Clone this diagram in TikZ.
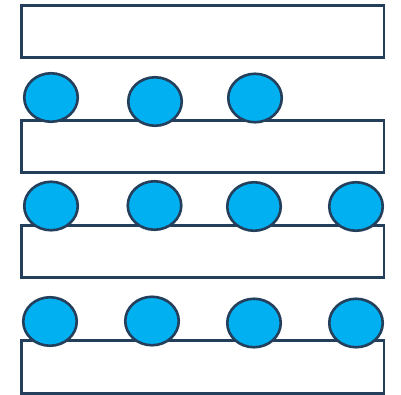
\documentclass[tikz,border=0pt]{standalone}
\usetikzlibrary{shapes.geometric}
\definecolor{edge}{RGB}{36,63,92}
\definecolor{ball}{RGB}{0,176,240}
\begin{document}
\begin{tikzpicture}[x=1pt,y=-1pt,
  bar/.style={draw=edge,line width=2.6pt,fill=white},
  disc/.style={ellipse,draw=edge,line width=2.6pt,fill=ball,minimum width=53.5pt,minimum height=48.5pt,inner sep=0pt}]
\useasboundingbox (0,0) rectangle (401,394);
\draw[bar] (21.3,5.3) rectangle (384,57.7);
\draw[bar] (21.3,120.3) rectangle (384,172.7);
\draw[bar] (21.3,225.3) rectangle (384,277.7);
\draw[bar] (21.3,340.3) rectangle (384,393.5);
% row 1
\node[disc] (a1) at (51,97.5) {};
\node[disc] (a2) at (155,101.5) {};
\node[disc] (a3) at (255,98) {};
% row 2
\node[disc] (b1) at (51,206) {};
\node[disc] (b2) at (154.5,205.5) {};
\node[disc] (b3) at (254,206.5) {};
\node[disc] (b4) at (356,206.5) {};
% row 3
\node[disc] (c1) at (50,321.5) {};
\node[disc] (c2) at (152,321) {};
\node[disc] (c3) at (254,323) {};
\node[disc] (c4) at (356,323) {};
\end{tikzpicture}
\end{document}
